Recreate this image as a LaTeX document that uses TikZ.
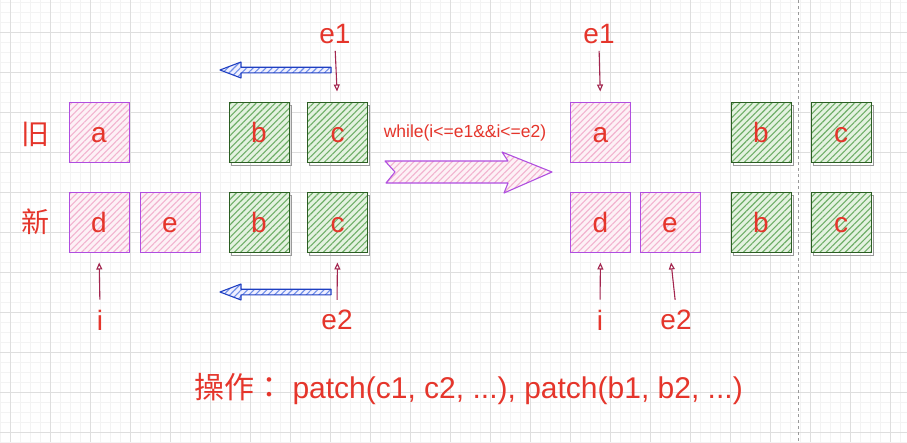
\documentclass[tikz,border=0pt]{standalone}
\usepackage{fontspec}
\setmainfont{Liberation Sans}
\newfontfamily\cjk{Noto Sans CJK TC}
\usetikzlibrary{arrows.meta,patterns.meta}
\definecolor{labred}{HTML}{E5352B}
\definecolor{boxpurple}{HTML}{B04EE0}
\definecolor{pinkfill}{HTML}{FDF1F6}
\definecolor{pinkhatch}{HTML}{F2B3CF}
\definecolor{boxgreen}{HTML}{2B5E22}
\definecolor{greenfill}{HTML}{E4F2E0}
\definecolor{greenhatch}{HTML}{6FAE68}
\definecolor{shadowgray}{HTML}{9A9A9A}
\definecolor{ptrred}{HTML}{A3264F}
\definecolor{arrowblue}{HTML}{1F3FC2}
\definecolor{bluehatch}{HTML}{6F8FE8}
\definecolor{gridmajor}{HTML}{DEDEDE}
\definecolor{gridminor}{HTML}{F3F3F3}
\newcommand\bigsz{\fontsize{28}{30}\selectfont}
\tikzset{
  hatch/.style={pattern={Lines[angle=45,distance=4.5pt,line width=1.1pt]}},
  box/.style={minimum size=60pt, inner sep=0pt, line width=1pt, text=labred, font=\bigsz,
    text height=21pt, text depth=0pt},
  oldbox/.style={box, draw=boxpurple, preaction={fill=pinkfill}, hatch, pattern color=pinkhatch},
  samebox/.style={box, draw=boxgreen,
    preaction={draw=shadowgray, line width=0.8pt, transform canvas={xshift=2pt,yshift=-3pt}},
    preaction={fill=greenfill}, hatch, pattern color=greenhatch},
  lbl/.style={text=labred, font=\bigsz, inner sep=2pt},
  ptr/.style={-{Triangle[open,length=7pt,width=6pt]}, draw=ptrred, line width=1.1pt},
  blockblue/.style={draw=arrowblue, line width=1.1pt, line join=round, preaction={fill=blue!6}, hatch, pattern color=bluehatch},
  blockpink/.style={draw=boxpurple, line width=1.1pt, line join=round, preaction={fill=pinkfill}, hatch, pattern color=pinkhatch}
}
\begin{document}
\begin{tikzpicture}[x=1pt, y=-1pt]
\useasboundingbox (0,0) rectangle (907,442);
\fill[white] (0,0) rectangle (907,442);
% grid
\foreach \x in {0,10,...,900} \draw[gridminor, line width=0.6pt] (\x,0) -- (\x,442);
\foreach \y in {2,12,...,442} \draw[gridminor, line width=0.6pt] (0,\y) -- (907,\y);
\foreach \x in {10,50,...,890} \draw[gridmajor, line width=0.8pt] (\x,0) -- (\x,442);
\foreach \y in {32,72,...,432} \draw[gridmajor, line width=0.8pt] (0,\y) -- (907,\y);
\draw[shadowgray, line width=0.7pt, dash pattern=on 3pt off 3pt] (798,0) -- (798,442);

% left: before
\node[lbl] (old) at (35,134) {\cjk 旧};
\node[lbl] (new) at (35,222) {\cjk 新};
\node[oldbox] (a1) at (99,132) {a};
\node[samebox] (b1) at (259,132) {b};
\node[samebox] (c1) at (337.5,132) {c};
\node[oldbox] (d1) at (99,222) {d};
\node[oldbox] (e1box) at (170,222) {e};
\node[samebox] (b2) at (259,222) {b};
\node[samebox] (c2) at (337.5,222) {c};

\node[lbl] (eoneL) at (335,34) {e1};
\node[lbl] (etwoL) at (337,320) {e2};
\node[lbl] (iL) at (100,320) {i};
\draw[ptr, shorten <=5pt, shorten >=10pt] (eoneL.south) -- (c1.north);
\draw[ptr, shorten <=8pt, shorten >=10pt] (etwoL.north) -- (c2.south);
\draw[ptr, shorten <=8pt, shorten >=10pt] (iL.north) -- (d1.south);

% moving e1 and e2 to the left
\foreach \y in {70,292}
  \draw[blockblue] (331,\y-2.8) -- (241,\y-2.8) -- (241,\y-8) -- (220,\y) -- (241,\y+8) -- (241,\y+2.8) -- (331,\y+2.8) -- cycle;

% middle
\node[lbl, font=\fontsize{17.5}{20}\selectfont] (cond) at (465,133) {while(i<=e1\&\&i<=e2)};
\draw[blockpink] (385,161) -- (508,161) -- (502,152) -- (552,172) -- (504,193) -- (508,183) -- (386,183) -- (395,172) -- cycle;

% right: after
\node[oldbox] (a3) at (600.5,132) {a};
\node[samebox] (b3) at (761,132) {b};
\node[samebox] (c3) at (841,132) {c};
\node[oldbox] (d3) at (600.5,222) {d};
\node[oldbox] (e3) at (670,222) {e};
\node[samebox] (b4) at (761,222) {b};
\node[samebox] (c4) at (841,222) {c};

\node[lbl] (eoneR) at (599,34) {e1};
\node[lbl] (iR) at (600,320) {i};
\node[lbl] (etwoR) at (676,320) {e2};
\draw[ptr, shorten <=5pt, shorten >=10pt] (eoneR.south) -- (a3.north);
\draw[ptr, shorten <=8pt, shorten >=10pt] (iR.north) -- (d3.south);
\draw[ptr, shorten <=8pt, shorten >=10pt] (etwoR.north) -- (e3.south);

\node[lbl, anchor=base west, inner sep=0pt, font=\fontsize{30}{32}\selectfont] (ops) at (194,398) {{\cjk 操作：} patch(c1, c2, ...), patch(b1, b2, ...)};
\end{tikzpicture}
\end{document}
